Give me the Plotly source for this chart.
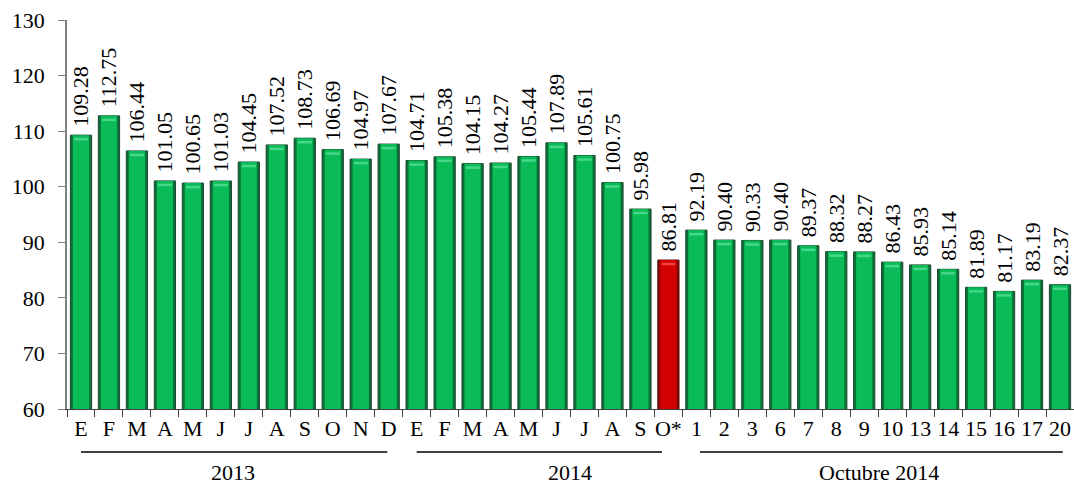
import plotly.graph_objects as go

ids = [f"c{i}" for i in range(36)]
tick_labels = ["E", "F", "M", "A", "M", "J", "J", "A", "S", "O", "N", "D",
               "E", "F", "M", "A", "M", "J", "J", "A", "S", "O*",
               "1", "2", "3", "6", "7", "8", "9", "10", "13", "14", "15", "16", "17", "20"]
values = [109.28, 112.75, 106.44, 101.05, 100.65, 101.03, 104.45, 107.52, 108.73, 106.69, 104.97, 107.67,
          104.71, 105.38, 104.15, 104.27, 105.44, 107.89, 105.61, 100.75, 95.98, 86.81,
          92.19, 90.40, 90.33, 90.40, 89.37, 88.32, 88.27, 86.43, 85.93, 85.14, 81.89, 81.17, 83.19, 82.37]
highlight_index = 21
group_names = ["2013", "2014", "Octubre 2014"]
group_line_spans = [(0.0, 10.95), (12.0, 20.77), (22.13, 35.1)]
group_label_pos = [5.43, 17.48, 28.53]

FONT = "Liberation Serif"

outer_cols = ["#8a0a0a" if i == highlight_index else "#0a7038" for i in range(len(values))]
inner_cols = ["#d20000" if i == highlight_index else "#0abb57" for i in range(len(values))]
shine_cols = ["#f04040" if i == highlight_index else "#45d888" for i in range(len(values))]
line_cols = ["#5a1010" if i == highlight_index else "#1d4a30" for i in range(len(values))]

fig = go.Figure()
fig.add_trace(go.Bar(
    x=ids, y=values, width=0.76,
    marker=dict(color=outer_cols, line=dict(color=line_cols, width=1)),
    text=["\u00a0" + f"{v:.2f}" for v in values], textposition="outside", textangle=-90,
    constraintext="none",
    textfont=dict(family=FONT, size=22, color="black"),
    hoverinfo="skip",
))
fig.add_trace(go.Bar(
    x=ids, y=values, width=0.58,
    marker=dict(color=inner_cols, line=dict(width=0)),
    hoverinfo="skip",
))
# top shine strip on each bar
fig.add_trace(go.Bar(
    x=ids, y=[0.45] * len(values), base=[v - 0.95 for v in values], width=0.5,
    marker=dict(color=shine_cols, line=dict(width=0)),
    hoverinfo="skip",
))

shapes = []
annotations = []
for name, (x0, x1), xc in zip(group_names, group_line_spans, group_label_pos):
    shapes.append(dict(type="line", xref="x", yref="paper", x0=x0, x1=x1,
                       y0=-0.1105, y1=-0.1105, line=dict(color="black", width=1.5)))
    annotations.append(dict(text=name, xref="x", yref="paper", x=xc, y=-0.162,
                            xanchor="center", yanchor="middle", showarrow=False,
                            font=dict(family=FONT, size=22, color="black")))

fig.update_layout(
    width=1074, height=485,
    margin=dict(l=67, r=0, t=20, b=76, autoexpand=False),
    paper_bgcolor="white", plot_bgcolor="white",
    barmode="overlay", showlegend=False,
    font=dict(family=FONT, size=22, color="black"),
    shapes=shapes, annotations=annotations,
)
fig.update_xaxes(
    type="category", tickvals=ids, ticktext=tick_labels, range=[-0.5, 35.5],
    tickson="boundaries", ticks="outside", ticklen=7, tickcolor="#404040",
    showline=True, linecolor="#404040", linewidth=1, showgrid=False,
    tickfont=dict(family=FONT, size=22, color="black"), tickangle=0, automargin=False,
)
fig.update_yaxes(
    range=[60, 130], dtick=10, ticks="outside", ticklen=7, tickcolor="#808080",
    showline=True, linecolor="#808080", linewidth=1.5, showgrid=False, zeroline=False,
    tickfont=dict(family=FONT, size=22, color="black"), ticklabelstandoff=9, automargin=False,
)

fig.write_html("out.html", config={"displayModeBar": False},
               post_script="document.body.style.margin='0';document.body.style.overflow='hidden';")
